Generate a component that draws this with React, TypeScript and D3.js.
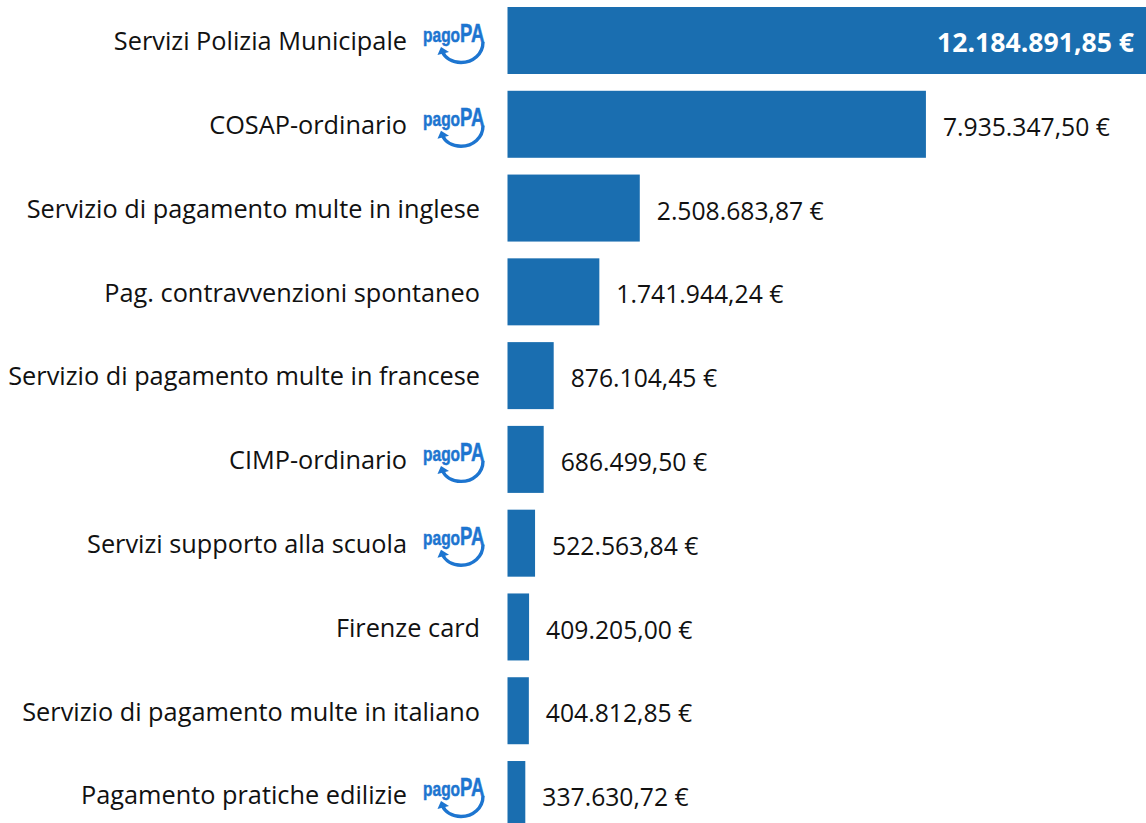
import React from 'react';
import * as d3 from 'd3';

const categories = [
  'Servizi Polizia Municipale',
  'COSAP-ordinario',
  'Servizio di pagamento multe in inglese',
  'Pag. contravvenzioni spontaneo',
  'Servizio di pagamento multe in francese',
  'CIMP-ordinario',
  'Servizi supporto alla scuola',
  'Firenze card',
  'Servizio di pagamento multe in italiano',
  'Pagamento pratiche edilizie',
];
const values = [
  12184891.85, 7935347.5, 2508683.87, 1741944.24, 876104.45,
  686499.5, 522563.84, 409205.0, 404812.85, 337630.72,
];
// rows that carry the pagoPA logo
const pagoPaRows = [
  'Servizi Polizia Municipale',
  'COSAP-ordinario',
  'CIMP-ordinario',
  'Servizi supporto alla scuola',
  'Pagamento pratiche edilizie',
];

const width = 1146;
const height = 823;
const barLeft = 507.5;
const rowStep = 83.78;
const rowGap = 16.78;
const blue = '#1a6eb0';
const logoBlue = '#1d75d0';
const font = '"Open Sans", sans-serif';
const narrow = '"Liberation Sans Narrow", "Liberation Sans", sans-serif';

const fmt = (v: number) =>
  v.toFixed(2).replace('.', ',').replace(/\B(?=(\d{3})+(?!\d))/g, '.') + ' €';

const PagoPa = ({ y }: { y: number }) => (
  <g transform={`translate(423,${y})`} fill={logoBlue}>
    <text transform="scale(0.74,1)" fontFamily={narrow} fontWeight={700}
      stroke={logoBlue} strokeWidth={0.5}>
      <tspan fontSize={21}>pago</tspan>
      <tspan fontSize={25}>PA</tspan>
    </text>
    <path d="M60,0 C60,12 50,20.5 38,20.5 C29,20.5 22,16 19,9"
      fill="none" stroke={logoBlue} strokeWidth={3.4} />
    <path d="M18,5 L26,10 L14.5,13 Z" />
  </g>
);

const App = () => {
  const y = d3.scaleBand<string>()
    .domain(categories)
    .range([7, 7 + rowStep * categories.length - rowGap])
    .paddingInner(rowGap / rowStep)
    .paddingOuter(0);
  const x = d3.scaleLinear()
    .domain([0, d3.max(values) as number])
    .range([barLeft, 1150]);

  return (
    <svg width={width} height={height}
      style={{ position: 'absolute', left: 0, top: 0, display: 'block' }}>
      {categories.map((c, i) => {
        const cy = (y(c) as number) + y.bandwidth() / 2;
        const hasLogo = pagoPaRows.includes(c);
        const first = i === 0;
        return (
          <g key={c} fontFamily={font} fill="#111">
            <rect x={barLeft} y={y(c)} width={x(values[i]) - barLeft} height={y.bandwidth()} fill={blue} />
            <text x={hasLogo ? 407 : 480} y={cy + 1} dy="0.35em" textAnchor="end" fontSize={25.3}>{c}</text>
            {hasLogo && <PagoPa y={cy + 1.5} />}
            <text
              x={first ? 1134 : x(values[i]) + 17}
              y={first ? cy + 2 : cy + 3}
              dy="0.35em"
              textAnchor={first ? 'end' : 'start'}
              fill={first ? '#fff' : '#111'}
              fontWeight={first ? 700 : 400}
              fontSize={first ? 26.6 : 24.7}
            >{fmt(values[i])}</text>
          </g>
        );
      })}
    </svg>
  );
};

export default App;
